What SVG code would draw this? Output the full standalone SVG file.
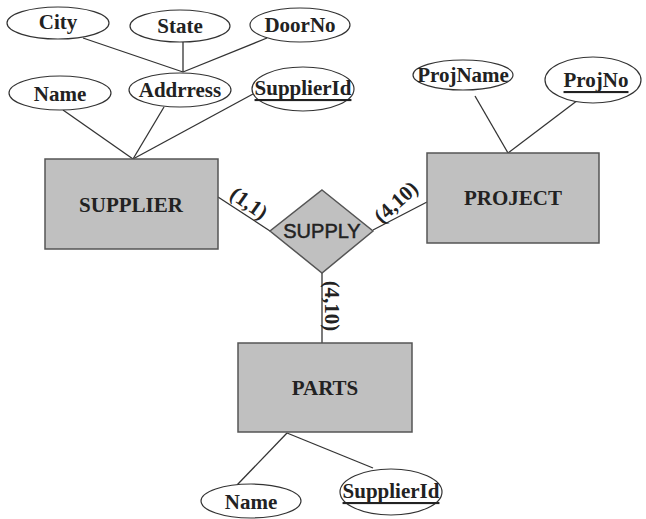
<svg xmlns="http://www.w3.org/2000/svg" width="646" height="519" viewBox="0 0 646 519">
<style>
.attr{fill:#fff;stroke:#333;stroke-width:1.2}
.ent{fill:#c0c0c0;stroke:#555;stroke-width:1.5}
.t{font-family:"Liberation Serif",serif;font-weight:bold;font-size:21px;fill:#222;text-anchor:middle;dominant-baseline:central}
.u{text-decoration:underline}
.s{font-family:"Liberation Sans",sans-serif;font-size:20px;fill:#222;stroke:#222;stroke-width:0.5;text-anchor:middle;dominant-baseline:central}
#connectors line{stroke:#333;stroke-width:1.3}
</style>
<rect width="646" height="519" fill="#fff"/>
<g id="connectors">
<line x1="83" y1="38" x2="183" y2="72"/>
<line x1="183" y1="42" x2="183" y2="72"/>
<line x1="267" y1="38" x2="183" y2="72"/>
<line x1="63" y1="110" x2="133" y2="159"/>
<line x1="164" y1="107" x2="133" y2="159"/>
<line x1="253" y1="94" x2="133" y2="159"/>
<line x1="475" y1="96" x2="508" y2="153"/>
<line x1="578" y1="100" x2="508" y2="153"/>
<line x1="218" y1="197" x2="270" y2="231"/>
<line x1="373" y1="230" x2="427" y2="202"/>
<line x1="322" y1="273" x2="322" y2="343"/>
<line x1="287" y1="433" x2="237" y2="485"/>
<line x1="287" y1="433" x2="373" y2="468"/>
</g>
<g id="lbl-1-1"><text class="t" transform="translate(249,203) rotate(35)">(1,1)</text></g>
<g id="lbl-4-10-proj"><text class="t" transform="translate(396,202) rotate(-42)">(4,10)</text></g>
<g id="lbl-4-10-parts"><text class="t" transform="translate(332,306) rotate(90)">(4,10)</text></g>
<g id="city"><ellipse class="attr" cx="58" cy="23" rx="51" ry="16"/><text class="t" x="58" y="22">City</text></g>
<g id="state"><ellipse class="attr" cx="180" cy="26" rx="50" ry="16"/><text class="t" x="180" y="26">State</text></g>
<g id="doorno"><ellipse class="attr" cx="300" cy="25" rx="50" ry="17"/><text class="t" x="300" y="25">DoorNo</text></g>
<g id="address"><ellipse class="attr" cx="180" cy="90" rx="51" ry="17"/><text class="t" x="180" y="90">Addrress</text></g>
<g id="name1"><ellipse class="attr" cx="60" cy="93" rx="51" ry="17"/><text class="t" x="60" y="94">Name</text></g>
<g id="supplierid1"><ellipse class="attr" cx="303" cy="89" rx="51" ry="22"/><text class="t u" x="303" y="88">SupplierId</text></g>
<g id="projname"><ellipse class="attr" cx="463" cy="75" rx="50" ry="15"/><text class="t" x="463" y="75">ProjName</text></g>
<g id="projno"><ellipse class="attr" cx="593" cy="80" rx="48" ry="23"/><text class="t u" x="596" y="80">ProjNo</text></g>
<g id="supplier"><rect class="ent" x="45" y="159" width="173" height="90"/><text class="t" x="131" y="205">SUPPLIER</text></g>
<g id="project"><rect class="ent" x="427" y="153" width="172" height="90"/><text class="t" x="513" y="198">PROJECT</text></g>
<g id="supply"><polygon class="ent" points="322,190 373,231 322,273 270,231"/><text class="s" x="322" y="231">SUPPLY</text></g>
<g id="parts"><rect class="ent" x="238" y="343" width="174" height="89"/><text class="t" x="325" y="388">PARTS</text></g>
<g id="name2"><ellipse class="attr" cx="251" cy="501" rx="50" ry="17"/><text class="t" x="251" y="502">Name</text></g>
<g id="supplierid2"><ellipse class="attr" cx="391" cy="492" rx="51" ry="23"/><text class="t u" x="391" y="491">SupplierId</text></g>
</svg>
